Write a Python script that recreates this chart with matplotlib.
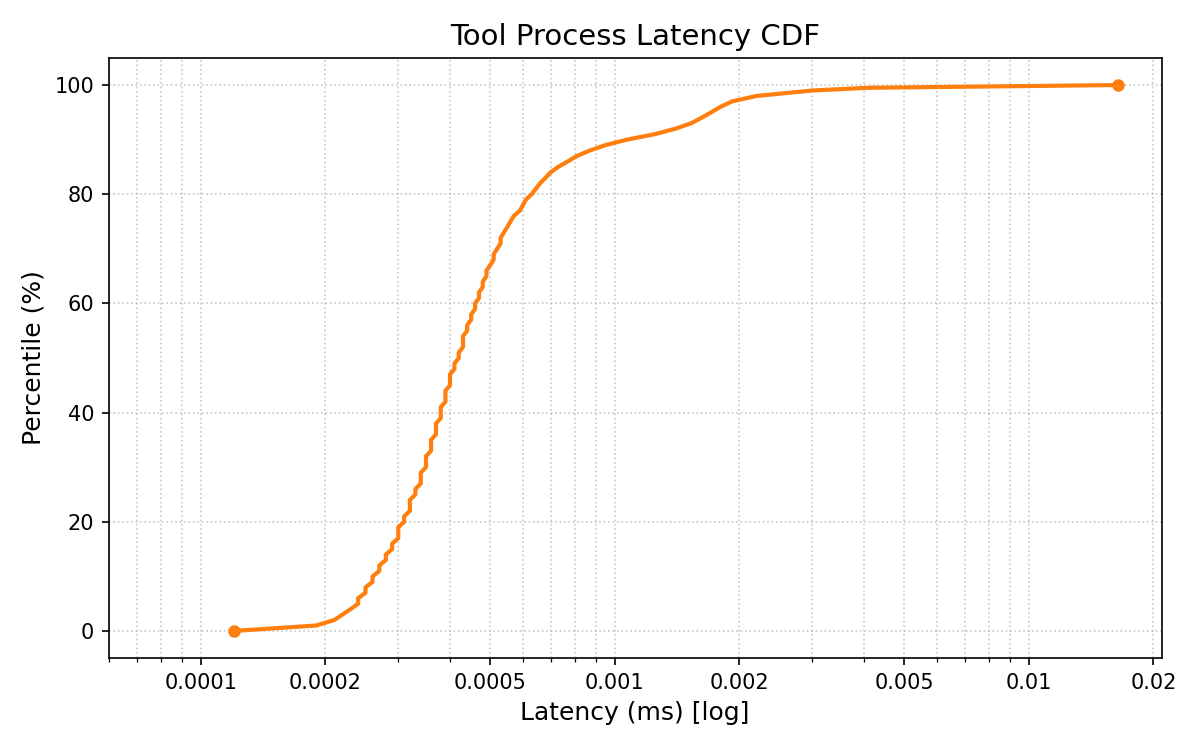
import matplotlib
matplotlib.use("Agg")
import matplotlib.pyplot as plt
from matplotlib.ticker import FixedLocator, FixedFormatter, LogLocator, NullFormatter

percentiles = list(range(0, 100)) + [99.5, 100]

latency_ms = [
    0.00012, 0.00019, 0.00021, 0.00022, 0.00023,          # p0-p4
    0.00024, 0.00024, 0.00025, 0.00025, 0.00026,          # p5-p9
    0.00026, 0.00027, 0.00027, 0.00028, 0.00028,          # p10-p14
    0.00029, 0.00029, 0.00030, 0.00030, 0.00030,          # p15-p19
    0.00031, 0.00031, 0.00032, 0.00032, 0.00032,          # p20-p24
    0.00033, 0.00033, 0.00034, 0.00034, 0.00034,          # p25-p29
    0.00035, 0.00035, 0.00035, 0.00036, 0.00036,          # p30-p34
    0.00036, 0.00037, 0.00037, 0.00037, 0.00038,          # p35-p39
    0.00038, 0.00038, 0.00039, 0.00039, 0.00039,          # p40-p44
    0.00040, 0.00040, 0.00040, 0.00041, 0.00041,          # p45-p49
    0.00042, 0.00042, 0.00043, 0.00043, 0.00043,          # p50-p54
    0.00044, 0.00044, 0.00045, 0.00045, 0.00046,          # p55-p59
    0.00046, 0.00047, 0.00047, 0.00048, 0.00048,          # p60-p64
    0.00049, 0.00049, 0.00050, 0.00051, 0.00051,          # p65-p69
    0.00052, 0.00053, 0.00053, 0.00054, 0.00055,          # p70-p74
    0.00056, 0.00057, 0.00059, 0.00060, 0.00061,          # p75-p79
    0.00063, 0.000645, 0.00066, 0.00068, 0.00070,         # p80-p84
    0.00073, 0.00077, 0.00081, 0.00087, 0.00095,          # p85-p89
    0.00107, 0.00125, 0.00140, 0.00153, 0.00162,          # p90-p94
    0.00171, 0.00180, 0.00192, 0.00220, 0.00300,          # p95-p99
    0.00410, 0.01640,                                     # p99.5, p100
]

major_ticks = [0.0001, 0.0002, 0.0005, 0.001, 0.002, 0.005, 0.01, 0.02]
major_labels = ["0.0001", "0.0002", "0.0005", "0.001", "0.002", "0.005", "0.01", "0.02"]
y_ticks = [0, 20, 40, 60, 80, 100]

fig = plt.figure(figsize=(8, 5), dpi=150)
ax = fig.add_subplot(111)
fig.subplots_adjust(left=0.0905, right=0.968, bottom=0.1223, top=0.923)

ax.plot(latency_ms, percentiles, color="#ff7f0e", linewidth=2.0,
        marker="o", markersize=5, markevery=[0, len(latency_ms) - 1])

ax.set_xscale("log")
ax.set_xlim(0.0000599, 0.02094)
ax.set_ylim(-5, 105)
ax.xaxis.set_major_locator(FixedLocator(major_ticks))
ax.xaxis.set_major_formatter(FixedFormatter(major_labels))
ax.xaxis.set_minor_locator(LogLocator(base=10, subs=[1, 2, 3, 4, 5, 6, 7, 8, 9], numticks=20))
ax.xaxis.set_minor_formatter(NullFormatter())
ax.set_yticks(y_ticks)

ax.grid(True, which="both", linestyle=":", color="#b0b0b0", alpha=0.7, linewidth=0.8)

ax.set_title("Tool Process Latency CDF", fontsize=14)
ax.set_xlabel("Latency (ms) [log]", fontsize=12)
ax.set_ylabel("Percentile (%)", fontsize=12)

fig.savefig("out.png", dpi=150)
